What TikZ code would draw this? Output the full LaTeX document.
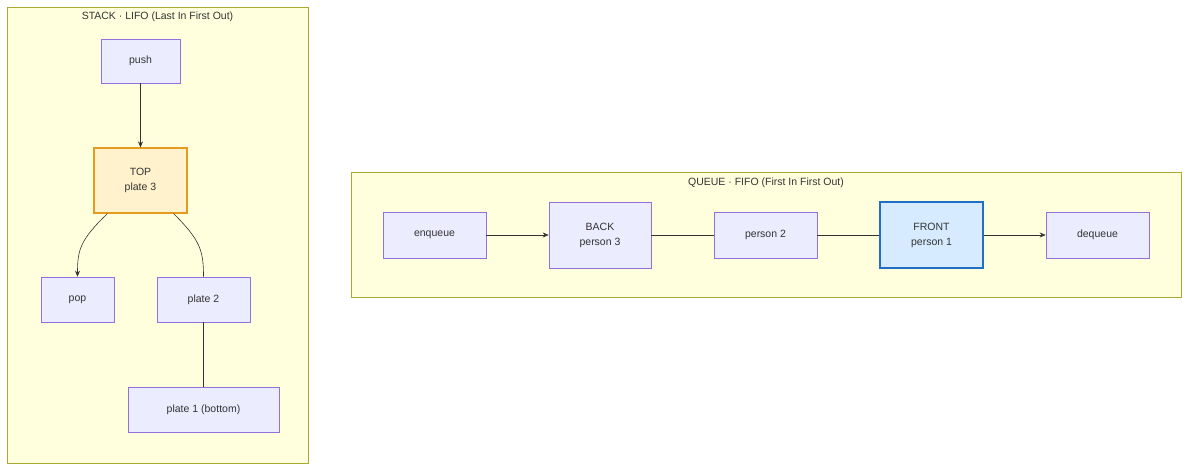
\documentclass[tikz,border=0pt]{standalone}
\usepackage{fontspec}
\setmainfont{Liberation Sans}
\usetikzlibrary{arrows.meta}
\definecolor{nodefill}{HTML}{ECECFF}
\definecolor{nodeline}{HTML}{9370DB}
\definecolor{clusterfill}{HTML}{FFFFDE}
\definecolor{clusterline}{HTML}{AAAA33}
\definecolor{topfill}{HTML}{FFF2CC}
\definecolor{topline}{HTML}{E69A1F}
\definecolor{frontfill}{HTML}{D6EBFF}
\definecolor{frontline}{HTML}{1F6FC4}
\definecolor{txt}{HTML}{333333}
\tikzset{
  box/.style={draw=nodeline, fill=nodefill, line width=0.6pt, text=txt, align=center, font=\fontsize{10.5}{15}\selectfont},
  cluster/.style={draw=clusterline, fill=clusterfill, line width=0.6pt},
  title/.style={text=txt, font=\fontsize{10.5}{13}\selectfont},
  link/.style={draw=txt, line width=0.6pt},
  arr/.style={link, -{Stealth[length=6pt,width=5pt]}}
}
\begin{document}
\begin{tikzpicture}[x=1pt, y=-1pt]
\useasboundingbox (0,0) rectangle (1200,476);
% clusters
\draw[cluster] (7,7) rectangle (308,463);
\node[title] (stacktitle) at (157.5,17) {STACK · LIFO (Last In First Out)};
\draw[cluster] (351,172) rectangle (1181,297);
\node[title] (queuetitle) at (766,183) {QUEUE · FIFO (First In First Out)};
% stack
\node[box, minimum width=79pt, minimum height=44pt] (push) at (140.5,61) {push};
\node[box, draw=topline, fill=topfill, line width=1.2pt, minimum width=93pt, minimum height=65pt] (top) at (140.5,180.5) {TOP\\plate 3};
\node[box, minimum width=73pt, minimum height=45pt] (pop) at (77.5,299.5) {pop};
\node[box, minimum width=93pt, minimum height=45pt] (plate2) at (203.5,299.5) {plate 2};
\node[box, minimum width=151pt, minimum height=45pt] (plate1) at (203.5,409.5) {plate 1 (bottom)};
\draw[arr] (push) -- (top);
\draw[arr] (top.south west) ++(14,0) coordinate (tl) (tl) .. controls (80,240) and (77.5,250) .. (pop.north);
\draw[link] (top.south east) ++(-14,0) coordinate (tr) (tr) .. controls (200,240) and (203.5,250) .. (plate2.north);
\draw[link] (plate2) -- (plate1);
% queue
\node[box, minimum width=103pt, minimum height=46pt] (enqueue) at (434.5,235) {enqueue};
\node[box, minimum width=102pt, minimum height=66pt] (back) at (600,235) {BACK\\person 3};
\node[box, minimum width=103pt, minimum height=46pt] (person2) at (765.5,235) {person 2};
\node[box, draw=frontline, fill=frontfill, line width=1.2pt, minimum width=103pt, minimum height=66pt] (front) at (931.5,235) {FRONT\\person 1};
\node[box, minimum width=103pt, minimum height=46pt] (dequeue) at (1097.5,235) {dequeue};
\draw[arr] (enqueue) -- (back);
\draw[link] (back) -- (person2);
\draw[link] (person2) -- (front);
\draw[arr] (front) -- (dequeue);
\end{tikzpicture}
\end{document}
